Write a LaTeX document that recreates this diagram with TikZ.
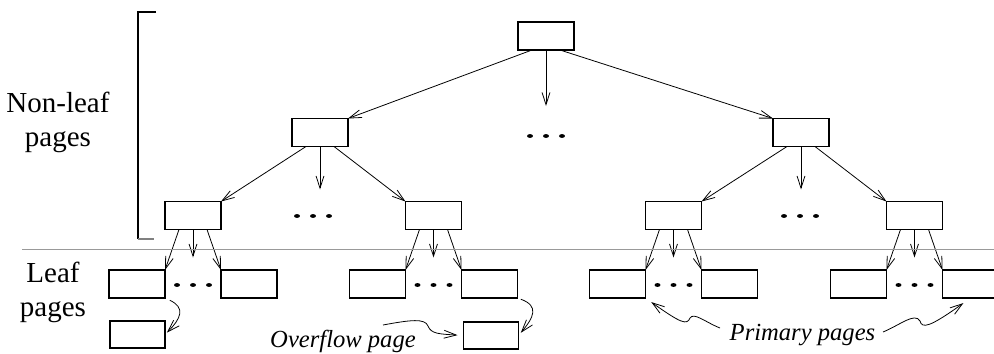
\documentclass[tikz,border=0pt]{standalone}
\usepackage{fontspec}
\setmainfont{Liberation Serif}
\usetikzlibrary{arrows.meta,calc}
\tikzset{
  page/.style   ={draw, line width=0.7pt, minimum width=1.12cm, minimum height=0.56cm,
                  inner sep=0pt, outer sep=0pt},
  ptr/.style    ={draw, line width=0.45pt, -{Straight Barb[length=7pt,width=4.5pt]}},
  sidelbl/.style={align=center, font=\fontsize{16.5}{19.3}\selectfont, inner sep=0pt},
  note/.style   ={font=\fontsize{14}{16}\selectfont\itshape, inner sep=0pt, anchor=base},
}
% three dots standing for pages that are left out
\newcommand{\dotrow}[1]{%
  \foreach \dx in {-16,0,16}
    {\fill ($(#1)+(\dx,0)$) ellipse [x radius=1.7pt, y radius=1.1pt];}}
\def\innerlist{a/193, b/433.5, c/673.5, d/914.5}

\begin{document}
\begin{tikzpicture}[x=0.02cm, y=-0.02cm]
\useasboundingbox (0,0) rectangle (994,353);
% non-leaf levels
\node[page] (root) at (546,36) {};
\node[page] (nl1) at (320,132.5) {};
\node[page] (nl2) at (801,132.5) {};
\draw[ptr] (root.225) -- (nl1.north east);
\draw[ptr] (root.south) -- ++(0,56);
\draw[ptr] (root.315) -- (nl2.north west);
\dotrow{546,136}
\dotrow{313,216}
\dotrow{800,216}
% last inner level and the leaves under it
\foreach \n/\x in \innerlist {
  \node[page] (\n) at (\x,215.5) {};
  \node[page] (\n-l) at (\x-56,284) {};
  \node[page] (\n-r) at (\x+56,284) {};
  \draw[ptr] (\n.225) -- (\n-l.north east);
  \draw[ptr] (\n.south) -- ++(0,28);
  \draw[ptr] (\n.315) -- (\n-r.north west);
  \dotrow{\x,285}
}
\draw[ptr] (nl1.225) -- (a.north east);
\draw[ptr] (nl1.south) -- ++(0,43);
\draw[ptr] (nl1.315) -- (b.north west);
\draw[ptr] (nl2.225) -- (c.north east);
\draw[ptr] (nl2.south) -- ++(0,43);
\draw[ptr] (nl2.315) -- (d.north west);
% overflow pages
\node[page, minimum width=1.1cm, minimum height=0.54cm] (ov-a) at (137.5,334.5) {};
\node[page, minimum width=1.1cm, minimum height=0.54cm] (ov-b) at (491,335.5) {};
\draw[ptr, shorten <=3pt, shorten >=1.5pt] (a-l.south east)
  to[out=-25,in=45,looseness=1.6] (ov-a.east);
\draw[ptr, shorten <=2pt, shorten >=2pt] (b-r.south east)
  to[out=-20,in=50,looseness=1.6] (ov-b.east);
% bracket and level separator
\draw[line width=0.9pt] (156,12) -- (138,12) -- (138,239);
\draw[gray, line width=0.9pt] (138,239) -- (154,239);
\draw[gray!80, line width=0.5pt] (22,249) -- (994,249);
% labels
\node[sidelbl] (nonleaf) at (58,122) {Non-leaf\\pages};
\node[sidelbl] (leaf) at (53,292) {Leaf\\pages};
\node[note] (ovtxt) at (343,347) {Overflow page};
\node[note] (prtxt) at (802.5,340) {Primary pages};
\coordinate (ovtail) at (383,325);
\coordinate (pltail) at (720,328);
\coordinate (prtail) at (883,332);
\draw[ptr, shorten >=3.4pt] (ovtail) .. controls (410,320) and (425,318) .. (428,326)
  .. controls (431,334) and (440,334) .. (ov-b.west);
\draw[ptr, shorten >=4pt] (pltail) .. controls (705,322) and (694,312) .. (690,318)
  .. controls (687,325) and (682,324) .. (c-l.south east);
\draw[ptr, shorten >=5pt] (prtail) .. controls (900,325) and (915,312) .. (920,321)
  .. controls (922,329) and (930,327) .. (d-r.south);
\end{tikzpicture}
\end{document}
